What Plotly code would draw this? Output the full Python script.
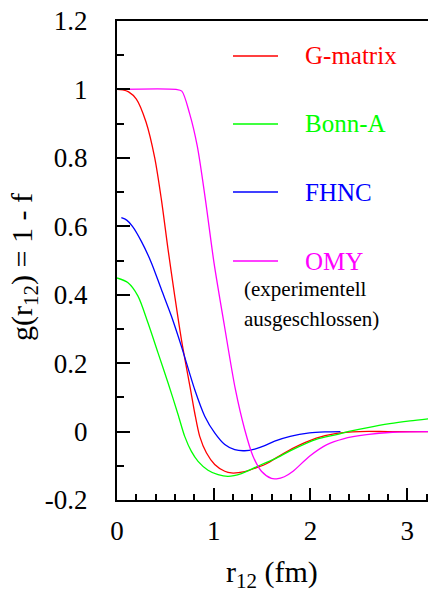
import plotly.graph_objects as go

# ---------------- data ----------------
series_names = ["G-matrix", "Bonn-A", "FHNC", "OMY"]
series_colors = ["#ff0000", "#00ff00", "#0000ff", "#ff00ff"]

gmatrix_r = [0, 0.06, 0.12, 0.2, 0.3, 0.39, 0.459, 0.528, 0.597, 0.666, 0.762, 0.803,
             0.855, 0.924, 1.01, 1.114, 1.183, 1.32, 1.458, 1.545, 1.72, 1.89, 2.06,
             2.27, 2.51, 2.8, 3.22]
gmatrix_g = [1, 0.999, 0.993, 0.972, 0.905, 0.80, 0.678, 0.532, 0.396, 0.269, 0.12,
             0.055, -0.014, -0.062, -0.096, -0.116, -0.121, -0.117, -0.104, -0.094,
             -0.064, -0.039, -0.019, -0.005, 0, 0, 0]

bonn_r = [0, 0.114, 0.217, 0.32, 0.424, 0.528, 0.631, 0.70, 0.769, 0.838, 0.941, 1.045,
          1.148, 1.286, 1.458, 1.63, 1.8, 2.06, 2.27, 2.41, 2.58, 2.82, 3.03, 3.22]
bonn_g = [0.449, 0.435, 0.396, 0.318, 0.230, 0.142, 0.05, -0.014, -0.058, -0.087,
          -0.113, -0.126, -0.131, -0.123, -0.101, -0.080, -0.055, -0.023, -0.009, 0.001,
          0.011, 0.023, 0.031, 0.037]

fhnc_r = [0.045, 0.1, 0.16, 0.252, 0.356, 0.459, 0.563, 0.666, 0.803, 0.907, 1.01, 1.114,
          1.217, 1.32, 1.424, 1.527, 1.63, 1.79, 1.99, 2.15, 2.31]
fhnc_g = [0.625, 0.618, 0.600, 0.556, 0.493, 0.415, 0.337, 0.249, 0.123, 0.045, -0.004,
          -0.038, -0.053, -0.056, -0.051, -0.041, -0.028, -0.014, -0.004, -0.001, 0]

omy_r = [0, 0.61, 0.67, 0.75, 0.83, 0.914, 1.003, 1.11, 1.224, 1.32, 1.406, 1.493,
         1.596, 1.65, 1.73, 1.82, 1.99, 2.17, 2.34, 2.58, 2.85, 3.22]
omy_g = [1, 1, 0.995, 0.93, 0.834, 0.678, 0.493, 0.31, 0.123, 0.006, -0.072, -0.116,
         -0.137, -0.138, -0.132, -0.116, -0.072, -0.038, -0.021, -0.009, -0.002, 0]

x_tickvals = [0, 1, 2, 3]
x_ticktext = ["0", "1", "2", "3"]
y_tickvals = [-0.2, 0, 0.2, 0.4, 0.6, 0.8, 1.0, 1.2]
y_ticktext = ["-0.2", "0", "0.2", "0.4", "0.6", "0.8", "1", "1.2"]

x_title = "r<sub>12</sub> (fm)"
y_title = "g(r<sub>12</sub>) = 1 - f"
note_lines = ["(experimentell", "ausgeschlossen)"]

# ---------------- figure ----------------
FONT = "Liberation Serif"
W, H = 428, 593
ML, MR, MT, MB = 117, 0, 21, 93
PW, PH = W - ML - MR, H - MT - MB


def px_x(p):
    return (p - ML) / PW


def px_y(p):
    return (H - MB - p) / PH


fig = go.Figure()
all_r = [gmatrix_r, bonn_r, fhnc_r, omy_r]
all_g = [gmatrix_g, bonn_g, fhnc_g, omy_g]
for name, col, rr, gg in zip(series_names, series_colors, all_r, all_g):
    fig.add_trace(go.Scatter(x=rr, y=gg, mode="lines", name=name,
                             line=dict(color=col, width=1.3, shape="spline", smoothing=0.8),
                             hoverinfo="skip"))

# legend drawn as in the original (sample line + coloured label)
leg_x0, leg_x1, leg_tx = 233, 278, 303
leg_y = [56, 124, 192, 261]
for name, col, yy in zip(series_names, series_colors, leg_y):
    fig.add_shape(type="line", xref="paper", yref="paper",
                  x0=px_x(leg_x0), x1=px_x(leg_x1), y0=px_y(yy), y1=px_y(yy),
                  line=dict(color=col, width=1.3))
    fig.add_annotation(xref="paper", yref="paper", x=px_x(leg_tx), y=px_y(yy),
                       text=name, showarrow=False, xanchor="left", yanchor="middle",
                       font=dict(family=FONT, size=25, color=col))

for i, line in enumerate(note_lines):
    fig.add_annotation(xref="paper", yref="paper", x=px_x(242), y=px_y(289 + 30 * i),
                       text=line, showarrow=False, xanchor="left", yanchor="middle",
                       font=dict(family=FONT, size=21, color="black"))

# axis titles
fig.add_annotation(xref="paper", yref="paper", x=px_x(272), y=px_y(574),
                   text=x_title, showarrow=False, xanchor="center", yanchor="middle",
                   font=dict(family=FONT, size=30, color="black"))
fig.add_annotation(xref="paper", yref="paper", x=px_x(24), y=px_y(267),
                   text=y_title, showarrow=False, xanchor="center", yanchor="middle",
                   textangle=-90, font=dict(family=FONT, size=30, color="black"))

fig.update_xaxes(range=[0, 3.215], showline=True, linecolor="black", linewidth=2,
                 mirror=True, showgrid=False, zeroline=False, automargin=False,
                 tickmode="array", tickvals=x_tickvals, ticktext=x_ticktext,
                 ticks="inside", ticklen=12, tickwidth=1.5, tickcolor="black",
                 ticklabelstandoff=6,
                 tickfont=dict(family=FONT, size=27, color="black"),
                 minor=dict(ticks="inside", dtick=0.2, tick0=0, ticklen=6,
                            tickwidth=1.5, tickcolor="black", showgrid=False))
fig.update_yaxes(range=[-0.2, 1.2], showline=True, linecolor="black", linewidth=2,
                 mirror=False, showgrid=False, zeroline=False, automargin=False,
                 tickmode="array", tickvals=y_tickvals, ticktext=y_ticktext,
                 ticks="inside", ticklen=13, tickwidth=1.5, tickcolor="black",
                 ticklabelstandoff=22,
                 tickfont=dict(family=FONT, size=27, color="black"),
                 minor=dict(ticks="inside", dtick=0.1, tick0=0, ticklen=7,
                            tickwidth=1.5, tickcolor="black", showgrid=False))

fig.update_layout(width=W, height=H, margin=dict(l=ML, r=MR, t=MT, b=MB, pad=0),
                  font=dict(family=FONT),
                  plot_bgcolor="white", paper_bgcolor="white", showlegend=False)

fig.write_html("out.html", config={"displayModeBar": False},
               post_script="document.body.style.margin='0';document.body.style.overflow='hidden';")
